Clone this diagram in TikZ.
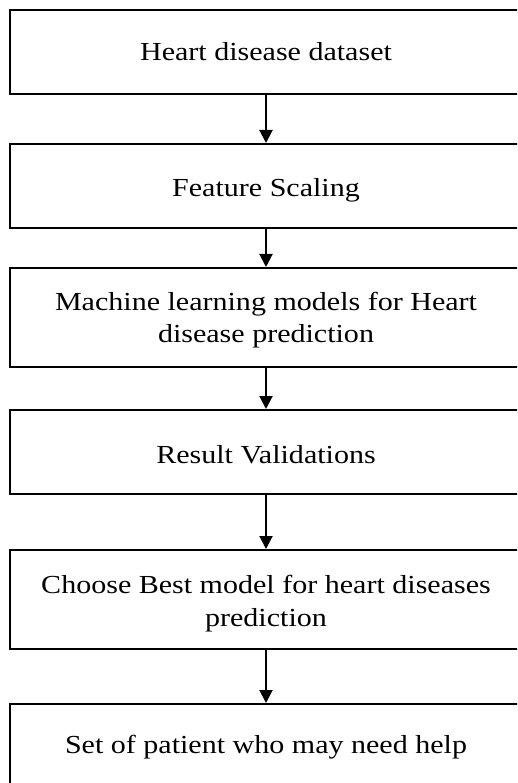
\documentclass[tikz,border=0pt]{standalone}
\usepackage{fontspec}
\setmainfont{Liberation Serif}
\usepackage{graphicx}
\usetikzlibrary{arrows.meta}
\tikzset{
  box/.style={draw=black, line width=2pt, rectangle, minimum width=512.5pt, inner sep=0pt},
  lbl/.style={anchor=base, inner sep=0pt, font=\fontsize{26}{32}\selectfont},
  flow/.style={draw=black, line width=2pt, -{Triangle[width=13pt,length=13pt]}}
}
\newcommand{\wide}[1]{\scalebox{1.155}[1]{#1}}
\begin{document}
\begin{tikzpicture}[x=1pt,y=-1pt]
\useasboundingbox (0,0) rectangle (517,783);
\clip (0,0) rectangle (517,783);
\fill[white] (0,0) rectangle (517,783);
\node[box, minimum height=83.5pt] (b1) at (266,52.25) {};
\node[box, minimum height=84pt] (b2) at (266,186) {};
\node[box, minimum height=99pt] (b3) at (266,317.5) {};
\node[box, minimum height=84pt] (b4) at (266,452) {};
\node[box, minimum height=99pt] (b5) at (266,599.5) {};
\node[box, minimum height=84pt] (b6) at (266,746) {};
\node[lbl] (t1) at (266,61) {\wide{Heart disease dataset}};
\node[lbl] (t2) at (266,196.7) {\wide{Feature Scaling}};
\node[lbl] (t3a) at (266,310.7) {\wide{Machine learning models for Heart}};
\node[lbl] (t3b) at (266,342.7) {\wide{disease prediction}};
\node[lbl] (t4) at (266,463.3) {\wide{Result Validations}};
\node[lbl] (t5a) at (266,593) {\wide{Choose Best model for heart diseases}};
\node[lbl] (t5b) at (266,626) {\wide{prediction}};
\node[lbl] (t6) at (266,753) {\wide{Set of patient who may need help}};
\draw[flow] (b1.south) -- (b2.north);
\draw[flow] (b2.south) -- (b3.north);
\draw[flow] (b3.south) -- (b4.north);
\draw[flow] (b4.south) -- (b5.north);
\draw[flow] (b5.south) -- (b6.north);
\end{tikzpicture}
\end{document}
